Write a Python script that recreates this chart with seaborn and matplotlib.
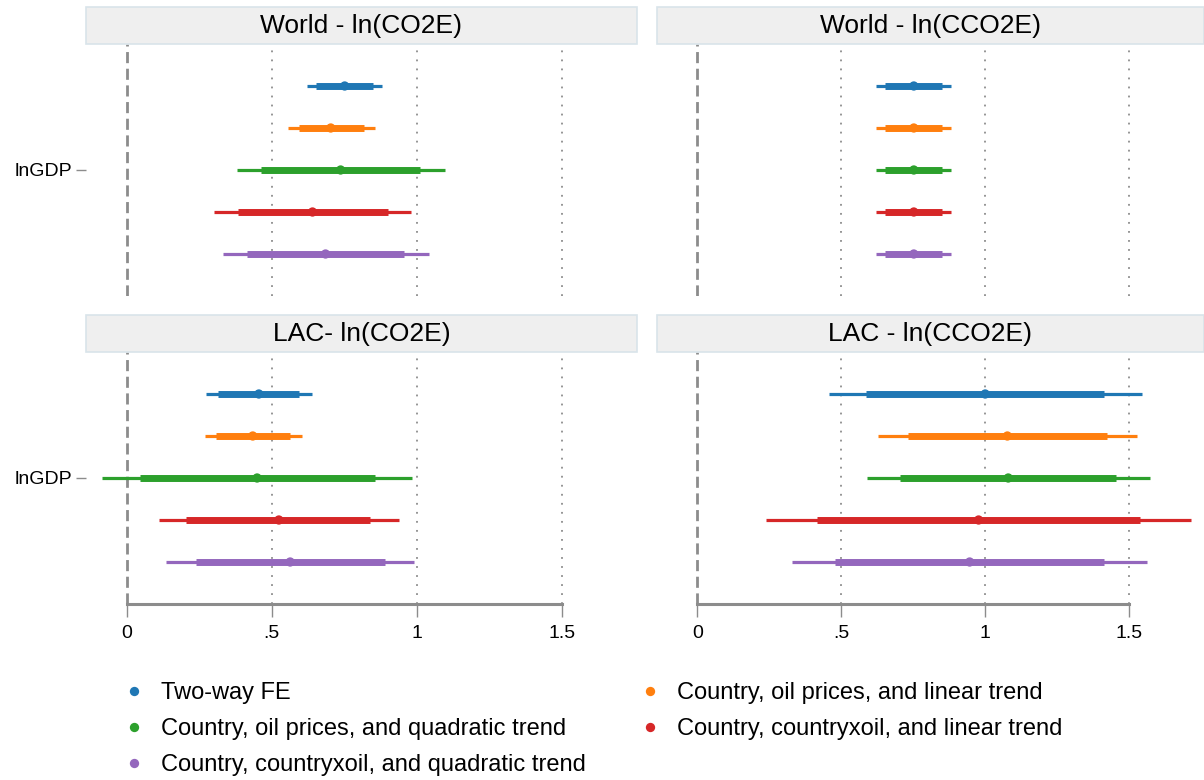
import numpy as np
import pandas as pd
import matplotlib
matplotlib.use("Agg")
import matplotlib.pyplot as plt
import seaborn as sns
from matplotlib.patches import Rectangle

# panels and model specifications
panels = ["World - ln(CO2E)", "World - ln(CCO2E)", "LAC- ln(CO2E)", "LAC - ln(CCO2E)"]
specs = ["Two-way FE",
         "Country, oil prices, and linear trend",
         "Country, oil prices, and quadratic trend",
         "Country, countryxoil, and linear trend",
         "Country, countryxoil, and quadratic trend"]
colors = ["#1f77b4", "#ff7f0e", "#2ca02c", "#d62728", "#9467bd"]

# point estimates (one row per panel, one value per spec)
coef = [[0.752, 0.704, 0.738, 0.641, 0.686],
        [0.752, 0.752, 0.752, 0.752, 0.752],
        [0.456, 0.435, 0.450, 0.525, 0.564],
        [1.000, 1.077, 1.080, 0.977, 0.946]]
# inner (thick) interval
in_lo = [[0.654, 0.593, 0.465, 0.384, 0.415],
         [0.653, 0.653, 0.653, 0.653, 0.653],
         [0.315, 0.309, 0.046, 0.206, 0.238],
         [0.585, 0.732, 0.704, 0.416, 0.478]]
in_hi = [[0.850, 0.819, 1.011, 0.900, 0.957],
         [0.851, 0.851, 0.851, 0.851, 0.851],
         [0.594, 0.563, 0.856, 0.840, 0.890],
         [1.414, 1.423, 1.456, 1.539, 1.414]]
# outer (thin) interval
out_lo = [[0.623, 0.556, 0.381, 0.302, 0.331],
          [0.622, 0.622, 0.622, 0.622, 0.622],
          [0.275, 0.269, -0.084, 0.110, 0.136],
          [0.457, 0.626, 0.589, 0.240, 0.330]]
out_hi = [[0.881, 0.856, 1.098, 0.980, 1.043],
          [0.882, 0.882, 0.882, 0.882, 0.882],
          [0.638, 0.604, 0.983, 0.940, 0.992],
          [1.543, 1.529, 1.571, 1.714, 1.562]]

xticks = [0, 0.5, 1, 1.5]
xticklabels = ["0", ".5", "1", "1.5"]

rows = []
for p, name in enumerate(panels):
    for s, spec in enumerate(specs):
        rows.append(dict(panel=name, spec=spec, pos=s - 2, coef=coef[p][s],
                         in_lo=in_lo[p][s], in_hi=in_hi[p][s],
                         out_lo=out_lo[p][s], out_hi=out_hi[p][s]))
df = pd.DataFrame(rows)

sns.set_style("white")
plt.rcParams["font.family"] = ["Liberation Sans", "DejaVu Sans"]

fig = plt.figure(figsize=(12.04, 7.80), dpi=100)
W, H = 1204, 780
boxes = [(86, 44, 551, 252), (657, 44, 547, 252),
         (86, 352, 551, 252), (657, 352, 547, 252)]
pal = dict(zip(specs, colors))
gray = "#8c8c8c"

axes = []
for i, (name, (x0, y0, w, h)) in enumerate(zip(panels, boxes)):
    ax = fig.add_axes([x0 / W, 1 - (y0 + h) / H, w / W, h / H])
    axes.append(ax)
    sub = df[df.panel == name]
    ax.axvline(0, color=gray, lw=2, ls=(0, (4, 2)), zorder=1)
    for xv in xticks[1:]:
        ax.axvline(xv, color=gray, lw=1.3, ls=(0, (1, 4)), zorder=1)
    ax.hlines(sub.pos, sub.out_lo, sub.out_hi, colors=colors, lw=2.3, zorder=2)
    ax.hlines(sub.pos, sub.in_lo, sub.in_hi, colors=colors, lw=5, zorder=2)
    sns.scatterplot(data=sub, x="coef", y="pos", hue="spec", palette=pal,
                    s=45, edgecolor="none", ax=ax, legend=(i == 0), zorder=3)
    ax.set_xlim(-0.14, 1.76)
    ax.set_ylim(3, -3)
    ax.set_xlabel("")
    ax.set_ylabel("")
    for sp in ["top", "right", "left"]:
        ax.spines[sp].set_visible(False)
    if i < 2:
        ax.spines["bottom"].set_visible(False)
        ax.set_xticks([])
    else:
        ax.spines["bottom"].set_bounds(0, 1.5)
        ax.spines["bottom"].set_color(gray)
        ax.spines["bottom"].set_linewidth(2.2)
        ax.set_xticks(xticks)
        ax.set_xticklabels(xticklabels)
        ax.tick_params(axis="x", bottom=True, length=9, width=1, color=gray,
                       labelsize=14, labelcolor="black", pad=6)
    if i % 2 == 0:
        ax.set_yticks([0])
        ax.set_yticklabels(["lnGDP"])
        ax.tick_params(axis="y", left=True, length=7, width=1, color=gray,
                       labelsize=14, labelcolor="black", pad=3)
    else:
        ax.set_yticks([])
    # strip header
    sh = 37 / h
    ax.add_patch(Rectangle((0, 1), 1, sh, transform=ax.transAxes, clip_on=False,
                           facecolor="#efefef", edgecolor="#d9e4ea", lw=1.2))
    ax.text(0.5, 1 + sh / 2, name, transform=ax.transAxes, ha="center",
            va="center", fontsize=19, color="black")

handles, labels = axes[0].get_legend_handles_labels()
axes[0].get_legend().remove()
order = [0, 2, 4, 1, 3]
leg = fig.legend([handles[k] for k in order], [labels[k] for k in order],
                 loc="upper left", bbox_to_anchor=(0.084, 0.1525), ncol=2,
                 frameon=False, fontsize=17, handlelength=1, handletextpad=0.65,
                 columnspacing=2.2, labelspacing=0.585, borderpad=0.4)
for t in leg.get_texts():
    t.set_color("black")

fig.savefig("out.png", dpi=100)
